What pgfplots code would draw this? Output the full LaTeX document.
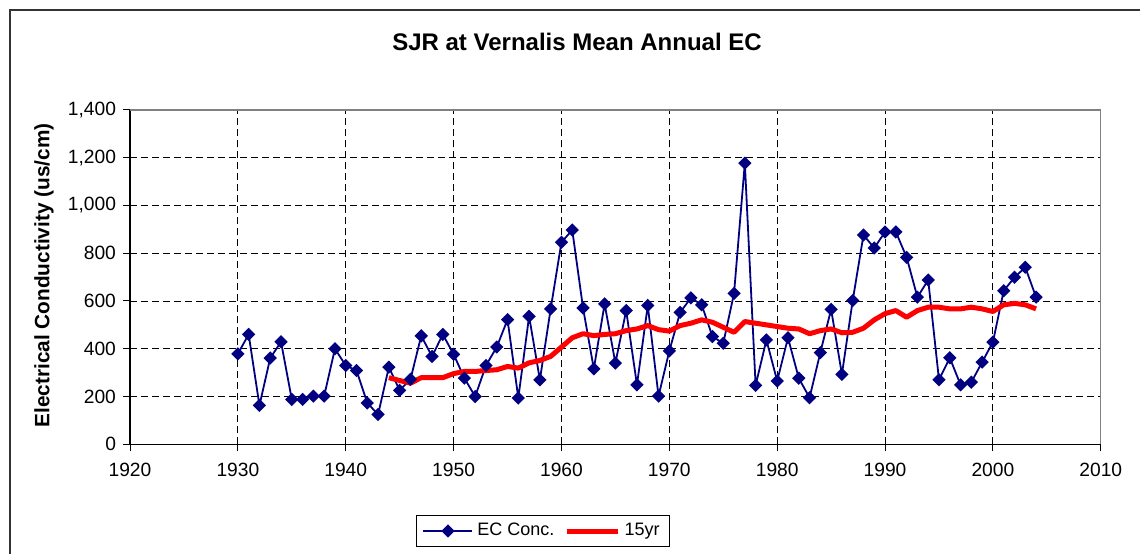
\documentclass[border=0pt]{standalone}
\usepackage{pgfplots}
\pgfplotsset{compat=1.18}
\usepackage{fontspec}
\setmainfont{Liberation Sans}
\definecolor{ecblue}{RGB}{0,0,128}
\begin{document}
\begin{tikzpicture}
\useasboundingbox (0,0) rectangle (570pt,277pt);
\begin{axis}[
  at={(65pt,54.85pt)}, anchor=south west,
  scale only axis, width=485.4pt, height=167.2pt,
  xmin=1920, xmax=2010, ymin=0, ymax=1400,
  xtick={1920,1930,...,2010}, ytick={0,200,...,1400},
  axis lines*=left,
  axis line style={black, line width=0.6pt},
  tick align=outside, major tick length=3.5pt,
  tick style={black, line width=0.5pt},
  grid=major,
  grid style={black, dash pattern=on 3.5pt off 2pt, line width=0.45pt},
  /pgf/number format/assume math mode=true,
  x tick label style={/pgf/number format/1000 sep={}, font=\fontsize{9.6}{11}\selectfont, yshift=-2.5pt},
  y tick label style={/pgf/number format/1000 sep={,}, font=\fontsize{9.6}{11}\selectfont},
  title={SJR at Vernalis Mean Annual EC},
  title style={at={(axis description cs:0.4605,1.1675)}, anchor=center, font=\bfseries\fontsize{12}{14}\selectfont},
  ylabel={Electrical Conductivity (us/cm)},
  ylabel style={at={(axis description cs:-0.0886,0.505)}, anchor=center, font=\bfseries\fontsize{10.4}{12}\selectfont},
  legend style={at={(axis description cs:0.4255,-0.2593)}, anchor=center, legend columns=2, draw=black, line width=0.5pt, font=\fontsize{9}{11}\selectfont, inner xsep=3pt, inner ysep=2pt, /tikz/every even column/.append style={column sep=3pt}},
]
\addplot[ecblue, line width=0.9pt, mark=square*, mark size=1.9pt, mark options={rotate=45, solid, fill=ecblue}, legend image code/.code={\draw[mark repeat=2,mark phase=2] plot coordinates {(0cm,0cm) (0.43cm,0cm) (0.86cm,0cm)};}] coordinates {
(1930,379) (1931,460) (1932,163) (1933,361) (1934,429) (1935,188) (1936,188) (1937,202) (1938,202) (1939,400)
(1940,330) (1941,309) (1942,173) (1943,125) (1944,323) (1945,226) (1946,272) (1947,454) (1948,368) (1949,460)
(1950,377) (1951,277) (1952,200) (1953,330) (1954,407) (1955,522) (1956,194) (1957,536) (1958,270) (1959,567)
(1960,846) (1961,897) (1962,571) (1963,316) (1964,588) (1965,340) (1966,560) (1967,249) (1968,581) (1969,202)
(1970,391) (1971,552) (1972,613) (1973,584) (1974,451) (1975,423) (1976,632) (1977,1177) (1978,247) (1979,437)
(1980,265) (1981,446) (1982,277) (1983,195) (1984,384) (1985,565) (1986,293) (1987,602) (1988,876) (1989,822)
(1990,889) (1991,889) (1992,783) (1993,616) (1994,688) (1995,270) (1996,362) (1997,249) (1998,260) (1999,344)
(2000,428) (2001,643) (2002,699) (2003,741) (2004,616)
};
\addlegendentry{EC Conc.}
\addplot[red, line width=2.5pt, no marks, line join=round, legend image code/.code={\draw (0cm,0cm) -- (0.9cm,0cm);}] coordinates {
(1944,279) (1945,267) (1946,256) (1947,279) (1948,279) (1949,279)
(1950,296) (1951,305) (1952,305) (1953,309) (1954,312) (1955,326) (1956,319) (1957,341) (1958,351) (1959,368)
(1960,407) (1961,446) (1962,463) (1963,455) (1964,460) (1965,463) (1966,476) (1967,483) (1968,497) (1969,480)
(1970,474) (1971,497) (1972,507) (1973,521) (1974,511) (1975,490) (1976,469) (1977,514) (1978,507) (1979,500)
(1980,493) (1981,486) (1982,483) (1983,463) (1984,476) (1985,483) (1986,467) (1987,469) (1988,486) (1989,521)
(1990,547) (1991,560) (1992,532) (1993,560) (1994,574) (1995,574) (1996,567) (1997,567) (1998,574) (1999,567)
(2000,556) (2001,584) (2002,590) (2003,584) (2004,567)
};
\addlegendentry{15yr}
\draw[gray, line width=0.6pt] (rel axis cs:0,1) -- (rel axis cs:1,1) -- (rel axis cs:1,0);
\end{axis}
\draw[black!80, line width=1pt] (5pt,0pt) -- (5pt,272pt) -- (570pt,272pt);
\end{tikzpicture}
\end{document}
